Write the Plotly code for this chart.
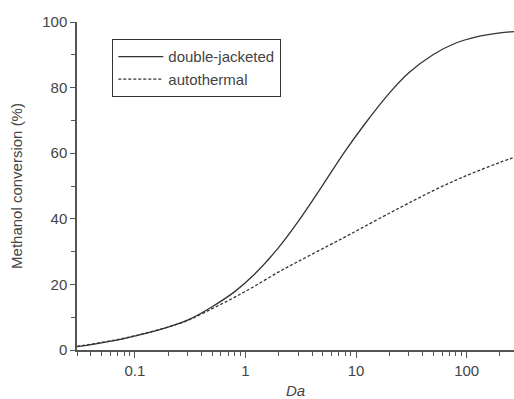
import plotly.graph_objects as go

# Damköhler number (log axis)
da = [0.03, 0.05, 0.08, 0.12, 0.2, 0.3, 0.5, 0.8, 1.2, 2, 3, 5, 8, 12, 20,
      30, 50, 80, 120, 200, 300]

# Methanol conversion (%) for each reactor configuration
double_jacketed = [1.0, 2.2, 3.5, 4.9, 7.0, 9.1, 13.2, 17.8, 23.0, 31.3, 39.2,
                   50.3, 60.7, 68.9, 78.3, 84.5, 90.1, 93.6, 95.4, 96.7, 97.2]
autothermal = [1.1, 2.3, 3.6, 5.0, 7.0, 9.0, 12.6, 16.1, 19.4, 23.8, 27.0,
               30.9, 34.5, 37.7, 41.7, 44.8, 48.6, 51.8, 54.3, 57.2, 59.3]

x_tickvals = [0.1, 1, 10, 100]
x_ticktext = ["0.1", "1", "10", "100"]
y_tickvals = [0, 20, 40, 60, 80, 100]

font_family = "Liberation Sans, Arial, sans-serif"
axis_color = "#555555"
line_color = "#333333"
text_color = "#444444"

fig = go.Figure()
fig.add_trace(go.Scatter(
    x=da, y=double_jacketed, mode="lines", name="double-jacketed",
    line=dict(color=line_color, width=1.3, shape="spline", smoothing=1.0),
))
fig.add_trace(go.Scatter(
    x=da, y=autothermal, mode="lines", name="autothermal",
    line=dict(color=line_color, width=1.3, dash="3px,2px", shape="spline", smoothing=1.0),
))

fig.update_layout(
    width=514, height=399,
    margin=dict(l=77, r=0, t=22, b=49),
    paper_bgcolor="white", plot_bgcolor="white",
    font=dict(family=font_family, color=text_color, size=15),
    showlegend=True,
    legend=dict(
        x=(112 - 77) / 437, y=(350 - 39) / 328, xanchor="left", yanchor="top",
        bgcolor="white", bordercolor="#333333", borderwidth=1.3,
        font=dict(family=font_family, size=15, color=text_color),
        tracegroupgap=0, itemwidth=45,
    ),
    xaxis=dict(
        type="log", range=[-1.5229, 2.428],
        tickvals=x_tickvals, ticktext=x_ticktext,
        ticks="outside", ticklen=6, tickwidth=1.3, tickcolor=axis_color,
        showline=True, linecolor=axis_color, linewidth=1.5,
        showgrid=False, zeroline=False,
        minor=dict(ticks="outside", ticklen=4, tickwidth=1.3, tickcolor=axis_color,
                   dtick="D1", showgrid=False),
        title=dict(text="<i>Da</i>", font=dict(size=15, color=text_color), standoff=10),
        tickfont=dict(size=15, color=text_color),
    ),
    yaxis=dict(
        range=[0, 100], tickvals=y_tickvals,
        ticks="outside", ticklen=5, tickwidth=1.3, tickcolor=axis_color,
        showline=True, linecolor=axis_color, linewidth=1.5,
        showgrid=False, zeroline=False,
        minor=dict(ticks="outside", ticklen=4, tickwidth=1.3, tickcolor=axis_color,
                   dtick=10, showgrid=False),
        title=dict(text="Methanol conversion (%)", font=dict(size=15, color=text_color), standoff=16),
        tickfont=dict(size=15, color=text_color),
    ),
)

fig.write_html("out.html")
